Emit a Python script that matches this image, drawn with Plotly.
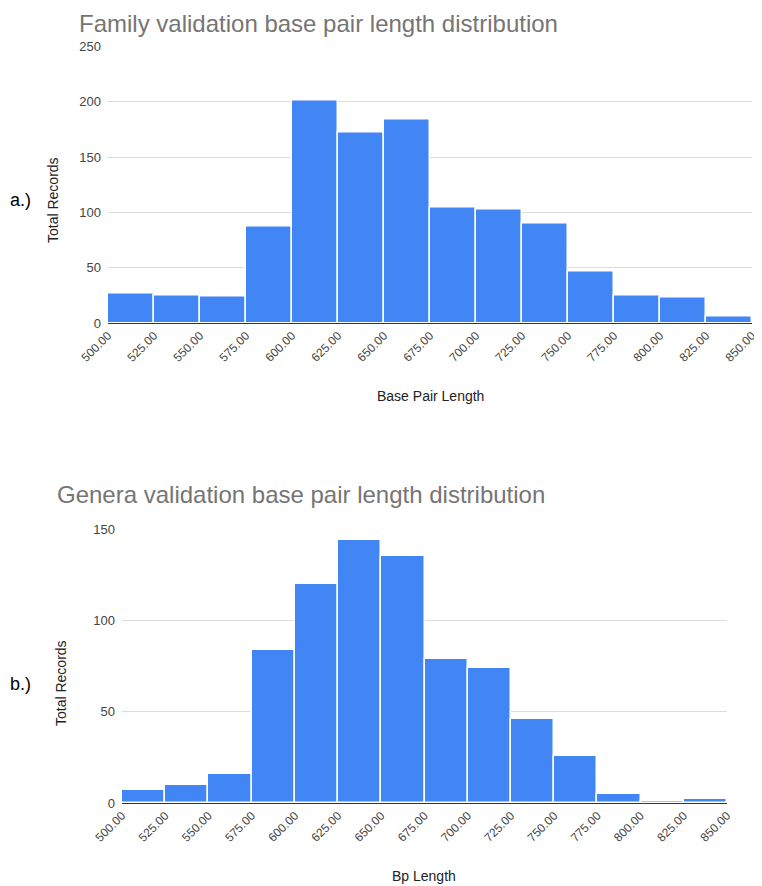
import plotly.graph_objects as go

# Bin starts (bp), each bin is 25 wide
bin_starts = [500, 525, 550, 575, 600, 625, 650, 675, 700, 725, 750, 775, 800, 825]
family_counts = [27, 25, 24, 87, 201, 172, 184, 104, 103, 90, 47, 25, 23, 6]
genera_counts = [7, 10, 16, 84, 120, 144, 135, 79, 74, 46, 26, 5, 1, 2]
tick_vals = [500, 525, 550, 575, 600, 625, 650, 675, 700, 725, 750, 775, 800, 825, 850]

# page body has an 8px margin, so the figure is drawn 8px in from the window
OFF = 8
W, H = 762 - OFF, 886 - OFF
BLUE = "#4285F4"
FONT = "Arial, 'Liberation Sans', sans-serif"


def px(x):
    return max(x - OFF, 0) / W


def py(y):
    return 1 - (y - OFF) / H


fig = go.Figure()

fig.add_trace(go.Bar(
    x=bin_starts, y=family_counts, offset=0, width=25,
    marker=dict(color=BLUE, line=dict(color="white", width=1.5)),
    xaxis="x", yaxis="y", hoverinfo="x+y",
))
fig.add_trace(go.Bar(
    x=bin_starts, y=genera_counts, offset=0, width=25,
    marker=dict(color=BLUE, line=dict(color="white", width=1.5)),
    xaxis="x2", yaxis="y2", hoverinfo="x+y",
))

xcommon = dict(
    tickvals=tick_vals, tickformat=".2f", tickangle=-45,
    showgrid=False, showline=True, linecolor="#333333", linewidth=1,
    ticks="", tickfont=dict(size=12, color="#444444", family=FONT),
    range=[500, 850], fixedrange=True, automargin=False,
)
ycommon = dict(
    showgrid=True, gridcolor="#dcdcdc", gridwidth=1, zeroline=False,
    tickfont=dict(size=13, color="#444444", family=FONT), dtick=50,
    ticks="", ticklabelstandoff=6, fixedrange=True, automargin=False,
)

fig.update_layout(
    width=W, height=H,
    margin=dict(l=0, r=0, t=0, b=0, autoexpand=False),
    paper_bgcolor="white", plot_bgcolor="white",
    showlegend=False, bargap=0,
    font=dict(family=FONT),
    xaxis=dict(domain=[px(108), px(752)], anchor="y", **xcommon),
    yaxis=dict(domain=[py(323), py(46.5)], anchor="x", range=[0, 250], **ycommon),
    xaxis2=dict(domain=[px(122), px(727)], anchor="y2", **xcommon),
    yaxis2=dict(domain=[py(803), py(529)], anchor="x2", range=[0, 150], **ycommon),
)

ann = [
    dict(text="Family validation base pair length distribution", x=px(77), y=1,
         xanchor="left", yanchor="top", font=dict(size=24, color="#757575")),
    dict(text="Genera validation base pair length distribution", x=px(55), y=py(495),
         xanchor="left", yanchor="middle", font=dict(size=24, color="#757575")),
    dict(text="Base Pair Length", x=px(430), y=py(396),
         xanchor="center", yanchor="middle", font=dict(size=14, color="#222222")),
    dict(text="Bp Length", x=px(424), y=py(876),
         xanchor="center", yanchor="middle", font=dict(size=14, color="#222222")),
    dict(text="Total Records", x=px(53), y=py(200), textangle=-90,
         xanchor="center", yanchor="middle", font=dict(size=14, color="#222222")),
    dict(text="Total Records", x=px(61), y=py(683), textangle=-90,
         xanchor="center", yanchor="middle", font=dict(size=14, color="#222222")),
    dict(text="a.)", x=px(3), y=py(200), xanchor="left", yanchor="middle",
         font=dict(size=18, color="#000000")),
    dict(text="b.)", x=px(3), y=py(684), xanchor="left", yanchor="middle",
         font=dict(size=18, color="#000000")),
]
for a in ann:
    a.update(xref="paper", yref="paper", showarrow=False)
fig.update_layout(annotations=ann)

fig.write_html("out.html")
